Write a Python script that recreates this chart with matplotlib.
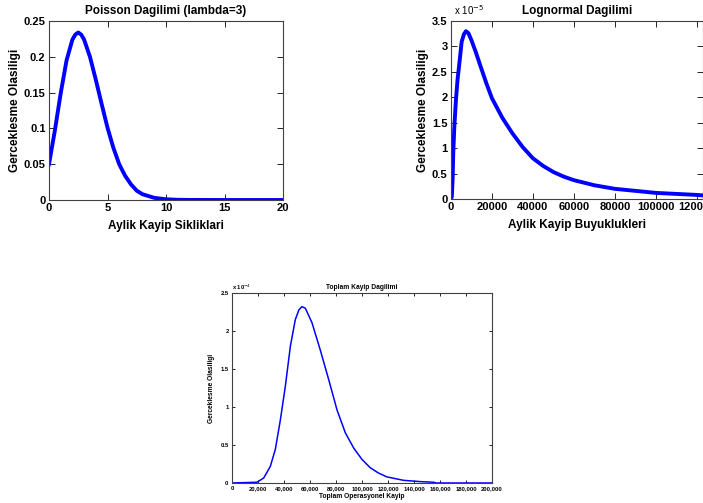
import matplotlib
matplotlib.use("Agg")
import matplotlib.pyplot as plt
from matplotlib.ticker import FuncFormatter

plt.rcParams["font.family"] = ["Liberation Sans", "DejaVu Sans"]

# Poisson (lambda=3), values
poisson_x = [0, 0.5, 1, 1.5, 2, 2.25, 2.5, 2.75, 3, 3.5, 4, 4.5, 5, 5.5, 6, 6.5, 7, 7.5, 8, 9, 10,
             11, 12, 15, 20]
poisson_y = [0.050, 0.097, 0.149, 0.195, 0.224, 0.231, 0.234, 0.231, 0.224, 0.200, 0.168, 0.134,
             0.101, 0.073, 0.050, 0.034, 0.022, 0.013, 0.008, 0.003, 0.001, 0.0003, 0.0001, 0.0, 0.0]

# Lognormal (x 1e-5)
logn_x = [0, 400, 800, 1100, 1600, 2400, 3200, 3900, 5200, 6300, 7300, 8500, 10000, 12000, 14000,
          17300, 20000, 25000, 30000, 35000, 40000, 45000, 50000, 55000, 60000, 70000, 80000,
          90000, 100000, 110000, 120000, 126000]
logn_y = [0.0, 0.05, 0.4, 0.9, 1.4, 1.94, 2.35, 2.6, 3.09, 3.24, 3.30, 3.26, 3.12, 2.90, 2.66,
          2.27, 1.98, 1.60, 1.29, 1.02, 0.80, 0.65, 0.53, 0.44, 0.37, 0.27, 0.20, 0.16, 0.12,
          0.10, 0.08, 0.06]

# Toplam kayip (x 1e-4)
top_x = [0, 19200, 24400, 29500, 33300, 37200, 41000, 44900, 48700, 51500, 53800, 56400, 61500,
         67900, 74400, 80800, 87200, 93600, 100000, 106400, 112800, 119200, 132000, 145000, 155000,
         157000, 200000]
top_y = [0.0, 0.01, 0.066, 0.22, 0.44, 0.83, 1.27, 1.80, 2.15, 2.28, 2.32, 2.30, 2.11, 1.75, 1.36,
         0.96, 0.66, 0.46, 0.31, 0.20, 0.13, 0.08, 0.035, 0.018, 0.01, 0.0, 0.0]

BLUE = "#0000ff"
W, H = 703, 503


def box(left, top, right, bottom):
    return [left / W, (H - bottom) / H, (right - left) / W, (bottom - top) / H]


def matlab_style(ax, fs, tl):
    ax.tick_params(direction="in", top=True, right=True, labelsize=fs, length=tl, width=0.6, pad=2.5)
    for lbl in ax.get_xticklabels() + ax.get_yticklabels():
        lbl.set_fontweight("bold")
    for s in ax.spines.values():
        s.set_linewidth(0.8)
        s.set_color("#404040")


fig = plt.figure(figsize=(W / 100, H / 100), dpi=100)

# Poisson
ax1 = fig.add_axes(box(49, 21, 283, 200))
ax1.plot(poisson_x, poisson_y, color=BLUE, lw=2.8)
ax1.set_xlim(0, 20)
ax1.set_ylim(0, 0.25)
ax1.set_xticks([0, 5, 10, 15, 20])
ax1.set_yticks([0, 0.05, 0.1, 0.15, 0.2, 0.25])
ax1.set_yticklabels(["0", "0.05", "0.1", "0.15", "0.2", "0.25"])
matlab_style(ax1, 8, 4)
ax1.set_title("Poisson Dagilimi (lambda=3)", fontsize=8.5, fontweight="bold", pad=5)
ax1.set_xlabel("Aylik Kayip Sikliklari", fontsize=8.5, fontweight="bold", labelpad=5)
ax1.set_ylabel("Gerceklesme Olasiligi", fontsize=8.5, fontweight="bold", labelpad=2)

# Lognormal
ax2 = fig.add_axes(box(451, 21, 703, 199))
ax2.plot(logn_x, logn_y, color=BLUE, lw=2.8)
ax2.set_xlim(0, 123000)
ax2.set_ylim(0, 3.5)
ax2.set_xticks([0, 20000, 40000, 60000, 80000, 100000, 120000])
ax2.set_yticks([0, 0.5, 1, 1.5, 2, 2.5, 3, 3.5])
ax2.set_yticklabels(["0", "0.5", "1", "1.5", "2", "2.5", "3", "3.5"])
matlab_style(ax2, 8, 4)
ax2.set_title("Lognormal Dagilimi", fontsize=8.5, fontweight="bold", pad=5)
ax2.set_xlabel("Aylik Kayip Buyuklukleri", fontsize=8.5, fontweight="bold", labelpad=5)
ax2.set_ylabel("Gerceklesme Olasiligi", fontsize=8.5, fontweight="bold", labelpad=2)
ax2.text(0.01, 1.02, r"x 10$^{-5}$", transform=ax2.transAxes, fontsize=7,
         va="bottom", ha="left")

# Toplam
ax3 = fig.add_axes(box(232, 293, 492, 483))
ax3.plot(top_x, top_y, color=BLUE, lw=1.1)
ax3.set_xlim(0, 200000)
ax3.set_ylim(0, 2.5)
ax3.set_xticks(range(0, 200001, 20000))
ax3.xaxis.set_major_formatter(FuncFormatter(lambda v, p: f"{int(v):,}" if v else "0"))
ax3.set_yticks([0, 0.5, 1, 1.5, 2, 2.5])
ax3.set_yticklabels(["0", "0.5", "1", "1.5", "2", "2.5"])
matlab_style(ax3, 4.2, 2.5)
ax3.set_title("Toplam Kayip Dagilimi", fontsize=4.8, fontweight="bold", pad=3)
ax3.set_xlabel("Toplam Operasyonel Kayip", fontsize=4.8, fontweight="bold", labelpad=1)
ax3.set_ylabel("Gerceklesme Olasiligi", fontsize=4.8, fontweight="bold", labelpad=4)
ax3.text(0.0, 1.005, r"x 10$^{-4}$", transform=ax3.transAxes, fontsize=4.2, fontweight="bold",
         va="bottom", ha="left")

fig.savefig("out.png", dpi=100)
